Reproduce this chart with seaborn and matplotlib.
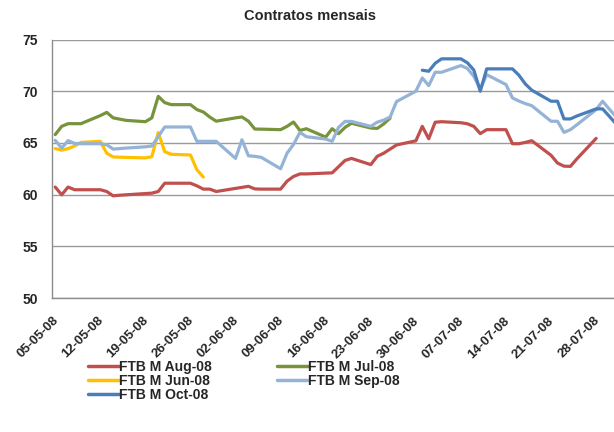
import numpy as np
import pandas as pd
import matplotlib
matplotlib.use("Agg")
import matplotlib.pyplot as plt
import matplotlib.dates as mdates
import matplotlib.transforms as mtrans
import seaborn as sns

nan = np.nan

#Trading days shown on the chart (business days, 05-05-08 to 31-07-08)
dates = pd.bdate_range("2008-05-05", "2008-07-31")

#Weekly tick labels
tick_dates = pd.date_range("2008-05-05", "2008-07-28", freq="7D")

#Contract prices (one row per week, Mon..Fri)
aug_08 = [60.73, 59.98, 60.73, 60.47, 60.47,
          60.47, 60.30, 59.88, 59.94, 59.98,
          60.10, 60.14, 60.30, 61.10, 61.10,
          61.10, 60.85, 60.53, 60.53, 60.30,
          60.60, 60.70, 60.80, 60.55, 60.53,
          60.53, 61.30, 61.75, 62.00, 62.00,
          62.08, 62.10, 62.70, 63.30, 63.50,
          62.90, 63.70, 64.00, 64.40, 64.80,
          65.20, 66.60, 65.40, 67.00, 67.05,
          66.95, 66.85, 66.60, 65.90, 66.28,
          66.28, 64.92, 64.92, 65.05, 65.21,
          63.80, 63.05, 62.75, 62.73, 63.45,
          65.44, nan, nan, nan]

jul_08 = [65.80, 66.60, 66.86, 66.86, 66.86,
          67.64, 67.95, 67.42, 67.30, 67.18,
          67.05, 67.42, 69.50, 68.90, 68.70,
          68.70, 68.22, 67.99, 67.50, 67.10,
          67.42, 67.51, 67.10, 66.34, 66.33,
          66.28, 66.60, 67.02, 66.20, 66.37,
          65.56, 66.37, 65.89, 66.50, 66.90,
          66.44, 66.40, 66.83, 67.40, nan] + [nan] * 24

jun_08 = [64.45, 64.30, 64.45, 64.70, 65.05,
          65.15, 64.00, 63.64, 63.62, 63.60,
          63.55, 63.67, 66.00, 64.15, 63.90,
          63.83, 62.40, 61.70, nan, nan] + [nan] * 44

sep_08 = [65.25, 64.50, 65.22, 64.95, 64.92,
          64.92, 64.82, 64.40, 64.45, 64.50,
          64.62, 64.70, 65.60, 66.54, 66.54,
          66.54, 65.15, 65.15, 65.15, 65.15,
          63.50, 65.30, 63.75, 63.70, 63.60,
          62.50, 64.00, 64.85, 66.02, 65.60,
          65.37, 65.15, 66.50, 67.08, 67.08,
          66.60, 67.00, 67.20, 67.50, 69.00,
          70.00, 71.28, 70.54, 71.83, 71.83,
          72.48, 72.20, 71.44, 70.22, 71.60,
          70.64, 69.35, 69.05, 68.80, 68.60,
          67.09, 67.09, 66.02, 66.28, 66.75,
          68.22, 69.03, 68.30, 67.60]

oct_08 = [nan] * 40 + \
         [nan, 72.03, 71.93, 72.70, 73.13,
          73.13, 72.75, 72.05, 70.00, 72.16,
          72.16, 72.16, 71.55, 70.70, 70.10,
          69.03, 69.03, 67.32, 67.32, 67.60,
          68.29, 68.29, 67.60, 66.90]

series = {"FTB M Aug-08": aug_08,
          "FTB M Jul-08": jul_08,
          "FTB M Jun-08": jun_08,
          "FTB M Sep-08": sep_08,
          "FTB M Oct-08": oct_08}

colours = {"FTB M Aug-08": "#C0504D",
           "FTB M Jul-08": "#77933C",
           "FTB M Jun-08": "#FFC000",
           "FTB M Sep-08": "#95B3D7",
           "FTB M Oct-08": "#4A7EBB"}

#Long format for seaborn
frames = []
for name, values in series.items():
    frames.append(pd.DataFrame({"Data": dates, "Preco": values, "Contrato": name}))
prices = pd.concat(frames).dropna()

sns.set_style("white")
plt.rcParams["font.family"] = ["Liberation Sans", "DejaVu Sans"]
plt.rcParams["font.weight"] = "bold"

fig = plt.figure(figsize=(6.14, 4.32), dpi=100)
ax = fig.add_axes([52 / 614, 1 - 298 / 432, 1 - 52 / 614, (298 - 39.5) / 432])

sns.lineplot(ax=ax,
             data=prices,
             x="Data",
             y="Preco",
             hue="Contrato",
             hue_order=list(series.keys()),
             palette=colours,
             linewidth=2.3,
             estimator=None,
             sort=True)

#Axis ranges
left = pd.Timestamp("2008-05-05") - pd.Timedelta(hours=12)
ax.set_xlim(left, left + pd.Timedelta(days=87.27))
ax.set_ylim(50, 75)
ax.set_yticks([50, 55, 60, 65, 70, 75])
ax.set_xticks(tick_dates)
ax.xaxis.set_major_formatter(mdates.DateFormatter("%d-%m-%y"))

ax.set_xlabel("")
ax.set_ylabel("")
ax.grid(axis="y", color="#9a9a9a", linewidth=1)
ax.grid(axis="x", visible=False)
for side in ["top", "right"]:
    ax.spines[side].set_visible(False)
for side in ["left", "bottom"]:
    ax.spines[side].set_color("#8c8c8c")
    ax.spines[side].set_linewidth(1)

ax.tick_params(axis="y", length=0, pad=10, labelsize=10)
ax.tick_params(axis="x", length=0, pad=12, labelsize=9.5)
shift = mtrans.ScaledTranslation(-3 / 100, 0, fig.dpi_scale_trans)
for lab in ax.get_xticklabels():
    lab.set_rotation(45)
    lab.set_ha("right")
    lab.set_rotation_mode("anchor")
    lab.set_fontweight("bold")
    lab.set_transform(lab.get_transform() + shift)
for lab in ax.get_yticklabels():
    lab.set_fontweight("bold")

#Title
fig.text(0.505, 0.963, "Contratos mensais", ha="center", va="center",
         fontsize=10.5, fontweight="bold")

#Legend in the Excel order (column-wise fill)
handles, labels = ax.get_legend_handles_labels()
lookup = dict(zip(labels, handles))
order = ["FTB M Aug-08", "FTB M Jun-08", "FTB M Oct-08", "FTB M Jul-08", "FTB M Sep-08"]
leg = ax.legend([lookup[k] for k in order], order,
                ncol=2,
                loc="upper left",
                bbox_to_anchor=(88 / 614, 1 - 360 / 432),
                bbox_transform=fig.transFigure,
                frameon=False,
                borderpad=0,
                borderaxespad=0,
                handlelength=2.2,
                handletextpad=0.0,
                labelspacing=0.0,
                columnspacing=4.75,
                prop={"size": 10, "weight": "bold"})
for line in leg.get_lines():
    line.set_linewidth(2.5)

fig.savefig("out.png", dpi=100)
